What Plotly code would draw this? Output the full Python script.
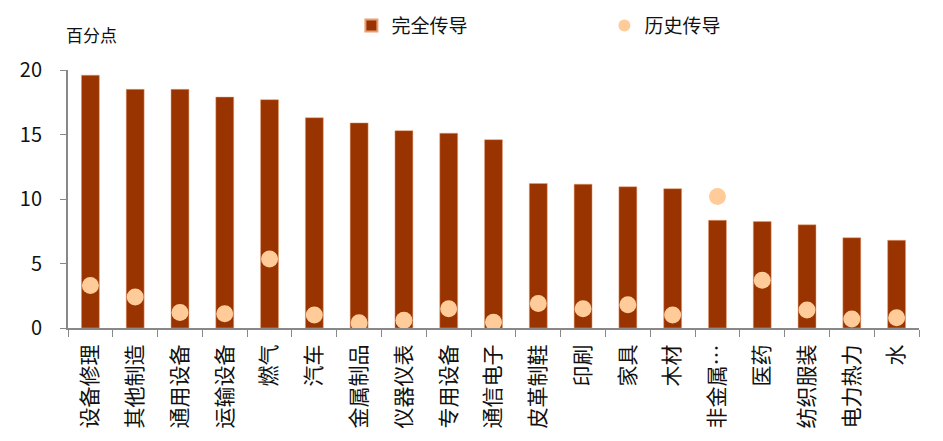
import plotly.graph_objects as go

# 行业类别
industries = ["设备修理", "其他制造", "通用设备", "运输设备", "燃气", "汽车", "金属制品",
              "仪器仪表", "专用设备", "通信电子", "皮革制鞋", "印刷", "家具", "木材",
              "非金属…", "医药", "纺织服装", "电力热力", "水"]

# 完全传导 (百分点)
full_pass = [19.6, 18.5, 18.5, 17.9, 17.7, 16.3, 15.9, 15.3, 15.1, 14.6,
             11.2, 11.15, 10.95, 10.8, 8.35, 8.25, 8.0, 7.0, 6.8]

# 历史传导 (百分点)
hist_pass = [3.3, 2.4, 1.2, 1.1, 5.35, 1.0, 0.4, 0.6, 1.5, 0.45,
             1.9, 1.5, 1.8, 1.0, 10.2, 3.7, 1.4, 0.7, 0.8]

font_family = "Noto Sans CJK SC"

fig = go.Figure()

fig.add_trace(go.Bar(
    x=industries, y=full_pass, name="完全传导",
    marker=dict(color="#993300", line=dict(color="#E8A070", width=0.5)),
))

fig.add_trace(go.Scatter(
    x=industries, y=hist_pass, name="历史传导", mode="markers",
    marker=dict(color="#FFCC99", size=17, line=dict(width=0)),
))

# page body adds ~8px offset, margins compensate for it
fig.update_layout(
    width=943, height=441,
    margin=dict(l=60, r=32, t=62, b=121, autoexpand=False),
    plot_bgcolor="white", paper_bgcolor="white",
    font=dict(family=font_family, size=19, color="#111111"),
    bargap=0.6,
    showlegend=True,
    legend=dict(
        orientation="h", x=0.333, xanchor="left", y=1.172, yanchor="middle",
        entrywidth=208, entrywidthmode="pixels",
        font=dict(size=19), itemwidth=30, traceorder="normal",
        itemsizing="constant",
    ),
    annotations=[dict(
        text="百分点", xref="paper", yref="paper", x=0, y=1, xanchor="left",
        yanchor="middle", xshift=-4, yshift=36, showarrow=False,
        font=dict(size=17, family=font_family),
    )],
)

fig.update_xaxes(
    type="category", range=[-0.5, 18.5], tickangle=-90, tickson="boundaries",
    ticks="outside", ticklen=7, tickcolor="#888888", automargin=False,
    showline=True, linecolor="#888888", linewidth=2, ticklabelstandoff=6,
    tickfont=dict(size=21), showgrid=False,
)

fig.update_yaxes(
    range=[0, 20], dtick=5, ticks="outside", ticklen=6, tickcolor="#888888",
    showline=True, linecolor="#888888", linewidth=2, showgrid=False,
    zeroline=False, tickfont=dict(size=20), ticklabelstandoff=14,
    automargin=False,
)

fig.write_html("out.html")
